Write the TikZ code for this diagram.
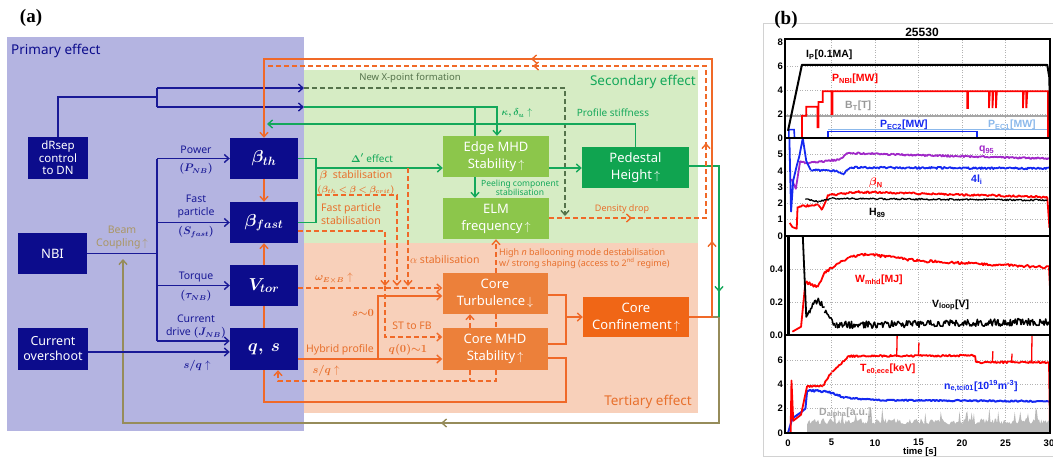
\documentclass[tikz,border=0pt]{standalone}
\usepackage{fontspec}
\setmainfont{Noto Sans}
\newfontfamily\plotfont{Liberation Sans}
\newfontfamily\serifbf{Liberation Serif}
\usepackage{bm}
\usetikzlibrary{arrows.meta,calc}
\definecolor{navy}{RGB}{12,12,140}
\definecolor{navyline}{RGB}{25,25,150}
\definecolor{lav}{RGB}{180,180,225}
\definecolor{palegreen}{RGB}{214,236,196}
\definecolor{peach}{RGB}{248,208,186}
\definecolor{lgbox}{RGB}{140,198,75}
\definecolor{dgbox}{RGB}{16,164,80}
\definecolor{orbox}{RGB}{236,128,58}
\definecolor{dorbox}{RGB}{240,102,22}
\definecolor{oline}{RGB}{240,105,40}
\definecolor{gline}{RGB}{20,168,90}
\definecolor{olivec}{RGB}{150,140,90}
\definecolor{dgdash}{RGB}{85,115,75}
\definecolor{otext}{RGB}{232,112,45}
\definecolor{beamc}{RGB}{170,150,100}
\definecolor{qpurple}{RGB}{160,40,200}
\definecolor{pblue}{RGB}{20,40,240}
\definecolor{lblue}{RGB}{140,185,235}
\newcommand\nz[7]{\draw[#1] plot[domain=#2:#3,samples=#6,variable=\t] (\t,{#4+(#5-#4)*(\t-#2)/(#3-#2)+#7*rand});}
\begin{document}
\begin{tikzpicture}[x=1pt,y=-1pt,
  >={Straight Barb[length=4.5pt,width=8pt]},
  every node/.style={inner sep=0pt},
  boxbase/.style={text=white, align=center, inner sep=0pt, minimum width=106pt, minimum height=41pt, font=\fontsize{13}{17}\selectfont},
  boxnavy/.style={boxbase, fill=navy, minimum width=68pt, font=\fontsize{17}{19}\selectfont},
  boxlg/.style={boxbase, fill=lgbox},
  boxdg/.style={boxbase, fill=dgbox, minimum width=107pt},
  boxor/.style={boxbase, fill=orbox, minimum width=105pt},
  boxdor/.style={boxbase, fill=dorbox, minimum height=40pt},
  lnavy/.style={draw=navyline, line width=1.4pt},
  lgreen/.style={draw=gline, line width=1.4pt},
  lor/.style={draw=oline, line width=1.4pt},
  lord/.style={draw=oline, line width=1.4pt, dash pattern=on 5pt off 3pt},
  lolive/.style={draw=olivec, line width=1.4pt},
  ldg/.style={draw=dgdash, line width=1.4pt, dash pattern=on 5pt off 3pt},
  labnavy/.style={text=navyline, font=\fontsize{10.5}{13}\selectfont, align=center},
  laborange/.style={text=otext, font=\fontsize{10.5}{13}\selectfont},
  labgreen/.style={text=gline, font=\bfseries\fontsize{10}{12}\selectfont},
  gridst/.style={gray!60, line width=0.5pt, dash pattern=on 1pt off 1.5pt},
  frm/.style={black, line width=1.6pt},
  ticklab/.style={font=\plotfont\bfseries\fontsize{9.5}{11}\selectfont, anchor=east},
  plab/.style={font=\plotfont\bfseries\fontsize{10.5}{12}\selectfont, anchor=west},
  nl/.style={line width=1.8pt, line join=round}
]
\useasboundingbox (0,0) rectangle (1053,456);
\pgfmathsetseed{7}
% ---------- panel (a) backgrounds
\fill[lav] (7,37) rectangle (304,431);
\fill[palegreen] (304,70) rectangle (698,243);
\fill[peach] (304,243) rectangle (698,413);
\node[font=\serifbf\bfseries\fontsize{19}{21}\selectfont] (pa) at (31,18) {(a)};
\node[anchor=west, text=navy, font=\fontsize{13.5}{16}\selectfont] (lprim) at (11,51) {Primary effect};
\node[anchor=east, text=gline, font=\fontsize{13.5}{16}\selectfont] (lsec) at (696,82) {Secondary effect};
\node[anchor=east, text=otext, font=\fontsize{13.5}{16}\selectfont] (lter) at (692,402) {Tertiary effect};
% ---------- boxes
\node[boxnavy, minimum width=60pt, minimum height=42pt, font=\fontsize{11.5}{12.5}\selectfont] (drsep) at (58,158) {dRsep\\control\\to DN};
\node[boxnavy, minimum width=69pt, font=\fontsize{13}{15}\selectfont] (nbi) at (52.5,253.5) {NBI};
\node[boxnavy, minimum width=70pt, minimum height=42pt, font=\fontsize{12.5}{15}\selectfont] (co) at (53,349) {Current\\overshoot};
\node[boxnavy] (bth) at (264,158.5) {$\bm{\beta_{th}}$};
\node[boxnavy] (bfast) at (264,222.5) {$\bm{\beta_{fast}}$};
\node[boxnavy] (vtor) at (264,285.5) {$\bm{V_{tor}}$};
\node[boxnavy, minimum height=42pt] (qs) at (264,349) {$\bm{q,\ s}$};
\node[boxlg] (edge) at (496,156.5) {Edge MHD\\Stability$\,\uparrow$};
\node[boxlg] (elm) at (496,218.5) {ELM\\frequency$\,\uparrow$};
\node[boxdg] (ped) at (635.5,167.5) {Pedestal\\Height$\,\uparrow$};
\node[boxor] (turb) at (495,293.5) {Core\\Turbulence$\,\downarrow$};
\node[boxor, minimum height=42pt] (cmhd) at (495,349) {Core MHD\\Stability$\,\uparrow$};
\node[boxdor] (conf) at (636,317) {Core\\Confinement$\,\uparrow$};
% ---------- olive feedback
\draw[lolive,->] (conf.east) -| (719,423) -- (441,423);
\draw[lolive,->] (445,423) -| (123,259);
% ---------- navy connectors
\coordinate (dsplit) at (157,97);
\coordinate (xa) at (157,88);
\coordinate (xb) at (157,107);
\coordinate (xbend) at (304,107);
\coordinate (xaend) at (304,88);
\draw[lnavy] (drsep.north) |- (dsplit);
\draw[lnavy] (xa) -- (xb);
\draw[lnavy,->] (xa) -- (xaend);
\draw[lnavy,->] (xb) -- (xbend);
\coordinate (nb1) at (157,158.5);
\coordinate (nb2) at (157,222.5);
\coordinate (nb3) at (157,285.5);
\coordinate (nb4) at (157,341);
\draw[lnavy] (nbi.east) -- (157,253.5);
\draw[lnavy] (nb1) -- (nb4);
\draw[lnavy,->] (nb1) -- (bth.west);
\draw[lnavy,->] (nb2) -- (bfast.west);
\draw[lnavy,->] (nb3) -- (vtor.west);
\draw[lnavy,->] (nb4) -- ($(qs.west)+(0,-8)$);
\draw[lnavy,->] ($(co.east)+(0,3)$) -- ($(qs.west)+(0,3)$);
% ---------- green connectors
\draw[ldg,->] (xaend) -| (565,216);
\draw[lgreen,->] (xbend) -| ($(edge.north)+(1,0)$);
\draw[lgreen] (475,107) -- ($(edge.north)+(-21,0)$);
\draw[lgreen,->] (ped.north) |- (267,124);
\draw[lgreen] (bth.east) -- (316,158.5) -- (316,222.5) -- (bfast.east);
\draw[lgreen,->] (316,168) -- ($(edge.west)+(0,11.5)$);
\draw[lgreen,->] ($(edge.south)+(-21,0)$) -- ($(elm.north)+(-21,0)$);
\draw[lgreen,->] ($(edge.east)+(0,11.5)$) -- ($(ped.west)+(0,0.5)$);
\draw[lgreen,->] ($(ped.east)+(0,-1.5)$) -| (719,292);
\draw[lgreen] (719,290) -- (719,317);
% ---------- orange solid
\draw[lor,->] (conf.east) -| (712,241);
\draw[lor,->] (712,244) |- (531,59);
\draw[lor,->] (535,59) -| (bth.north);
\draw[lor,->] (bth.south) -- (bfast.north);
\draw[lor,->] (vtor.north) -- (bfast.south);
\draw[lor] (qs.north) -- (vtor.south);
\draw[lor] (qs.south) |- (566,402) |- ($(cmhd.east)+(0,9)$);
\draw[lor] ($(turb.east)+(0,1.5)$) -| (566,344) -- ($(cmhd.east)+(0,-5)$);
\draw[lor,->] (566,317) -- (conf.west);
\draw[lor,->] ($(qs.east)+(0,10)$) -- ($(cmhd.west)+(0,10)$);
\draw[lor,->] (378,359) |- ($(turb.west)+(0,2.5)$);
% ---------- orange dashed
\draw[lord,->] ($(vtor.east)+(0,2.5)$) -- ($(turb.west)+(0,-5.5)$);
\draw[lord,->] ($(bfast.east)+(0,8.5)$) -| (385,286);
\draw[lord,->] (317,195) -| (397,286);
\draw[lord,->] (408,168) -- (408,286);
\draw[lord,->] (385,286) |- ($(cmhd.west)+(0,-12)$);
\draw[lord,->] ($(cmhd.north)+(-25,0)$) -- ($(turb.south)+(-25,0)$);
\draw[lord] ($(turb.south)+(1,0)$) -- ($(cmhd.north)+(1,0)$);
\draw[lord,->] ($(cmhd.south)+(1,0)$) |- (278,381) -- ($(qs.south)+(14,0)$);
\draw[lord] ($(cmhd.south)+(-25,0)$) -- (470,381);
\draw[lord,->] ($(turb.north)+(1,0)$) -- (elm.south);
\draw[lord,->] ($(elm.east)+(0,-0.5)$) -- (632,218);
\draw[lord,->] (630,218) -| (706,143);
\draw[lord,->] (706,147) |- (533,66);
\draw[lord] (537,66) -- (266,66);
% ---------- navy labels
\node[labnavy] (lpow) at (196,150) {Power};
\node[labnavy] (lpnb) at (196,169) {$\bm{(P_{NB})}$};
\node[labnavy] (lfp) at (196,206.5) {Fast\\particle};
\node[labnavy] (lsf) at (196,232) {$\bm{(S_{fast})}$};
\node[labnavy] (ltq) at (196,277) {Torque};
\node[labnavy] (ltau) at (196,296) {$\bm{(\tau_{NB})}$};
\node[labnavy] (lcd) at (196,326.5) {Current\\drive $\bm{(J_{NB})}$};
\node[labnavy] (lsq) at (197,366) {$\bm{s/q}\uparrow$};
\node[text=beamc, font=\fontsize{10.5}{13}\selectfont, align=center] (lbeam) at (122,237.5) {Beam\\Coupling$\,\uparrow$};
% ---------- green labels
\node[text=dgdash, font=\fontsize{9.5}{11}\selectfont] (lnx) at (410,78) {New X-point formation};
\node[labgreen] (ldel) at (372,158) {$\bm{\Delta'}$ effect};
\node[labgreen] (lkap) at (517,113) {$\bm{\kappa,\delta_u}\uparrow$};
\node[labgreen] (lprof) at (613,113) {Profile stiffness};
\node[labgreen, font=\bfseries\fontsize{8.5}{9}\selectfont, align=center] (lpeel) at (520,187.5) {Peeling component\\stabilisation};
% ---------- orange labels
\node[laborange] (lbs) at (356,176) {$\bm{\beta}$\ \ stabilisation};
\node[laborange, font=\fontsize{9}{11}\selectfont] (lbr) at (356,190) {$\bm{(\beta_{th}<\beta<\beta_{crit})}$};
\node[laborange, anchor=west, align=left] (lfps) at (321,214.5) {Fast particle\\stabilisation};
\node[laborange, anchor=west] (lal) at (410,260) {$\alpha$ stabilisation};
\node[laborange] (lom) at (334,278) {$\bm{\omega_{E\times B}}\uparrow$};
\node[laborange] (ls0) at (363,313) {$\bm{s{\sim}0}$};
\node[laborange] (lst) at (412,326) {ST to FB};
\node[laborange] (lhy) at (340,350) {Hybrid profile};
\node[laborange] (lq0) at (408,350) {$\bm{q(0){\sim}1}$};
\node[laborange] (lsq2) at (326,371) {$\bm{s/q}\uparrow$};
\node[laborange, font=\fontsize{9}{11.5}\selectfont, anchor=west, align=left] (lhn) at (499,258.5) {High \emph{n} ballooning mode destabilisation\\w/ strong shaping (access to 2\textsuperscript{nd} regime)};
\node[laborange, font=\fontsize{9}{11}\selectfont] (ldd) at (622,209) {Density drop};
% ================= panel (b)
\draw[gray!35, line width=0.5pt] (763,23) rectangle (1053,456);
\node[font=\serifbf\bfseries\fontsize{19}{21}\selectfont] (pb) at (786,20) {(b)};
\node[font=\plotfont\bfseries\fontsize{12}{14}\selectfont] (ttl) at (922,32) {25530};
% subplot 1
\begin{scope}[shift={(788,138)}, x=8.7pt, y=12pt]
  \foreach \t in {5,10,...,25} \draw[gridst] (\t,0) -- (\t,8.25);
  \foreach \v in {2,4,6} \draw[gridst] (-0.35,\v) -- (30.1,\v);
  \begin{scope}
    \clip (-0.35,0) rectangle (30.1,8.25);
    \draw[lblue, line width=1.6pt] (4.6,0.72) -- (30.1,0.72);
    \draw[gray!70, line width=1.5pt] (-0.35,1.85) -- (30.1,1.85);
    \draw[pblue, line width=1.6pt] (0.1,0) -- (0.1,0.7) -- (0.7,0.7) -- (0.75,0);
    \draw[pblue, line width=1.6pt] (4.6,0) -- (4.6,0.55) -- (21.7,0.55) -- (21.7,0.05);
    \draw[red, line width=1.8pt] (1.6,0) -- (1.6,1.85) -- (2.1,1.85) -- (2.1,2.6) -- (3.4,2.6) -- (3.4,0.9) -- (3.5,0.9) -- (3.5,3.0) -- (4.0,3.0) -- (4.0,3.9) -- (5.0,3.9) -- (5.0,2.0) -- (5.1,2.0) -- (5.1,3.9) -- (20.6,3.9) -- (20.6,2.5) -- (20.7,2.5) -- (20.7,3.9) -- (23.1,3.9) -- (23.1,2.5) -- (23.2,3.9) -- (23.5,3.9) -- (23.5,2.5) -- (23.6,3.9) -- (23.9,3.9) -- (23.9,2.5) -- (24.0,3.9) -- (27.0,3.9) -- (27.0,2.5) -- (27.1,3.9) -- (27.4,3.9) -- (27.4,2.5) -- (27.5,3.9) -- (29.9,3.9) -- (29.9,0);
    \draw[black, line width=2pt, line join=round] (0,0.6) -- (1.6,6.1) -- (29.8,6.1) -- (30.05,5) -- (30.1,0);
  \end{scope}
  \draw[frm] (-0.35,0) rectangle (30.1,8.25);
  \foreach \v in {0,2,4,6,8} \node[ticklab] at (-0.55,\v) {\v};
\end{scope}
% subplot 2
\begin{scope}[shift={(788,236)}, x=8.7pt, y=16.3pt]
  \foreach \t in {5,10,...,25} \draw[gridst] (\t,0) -- (\t,6);
  \foreach \v in {1,2,3,4,5} \draw[gridst] (-0.35,\v) -- (30.1,\v);
  \begin{scope}
    \clip (-0.35,0) rectangle (30.1,6);
    \draw[qpurple, nl] (0.4,3.5) -- (0.9,2.9) -- (1.4,4.6);
    \nz{qpurple, nl}{1.4}{2}{4.6}{4.45}{6}{0.05}
    \nz{qpurple, nl}{2}{6}{4.45}{4.7}{35}{0.05}
    \nz{qpurple, nl}{6}{6.8}{4.7}{5.1}{6}{0.05}
    \nz{qpurple, nl}{6.8}{12}{5.1}{5.0}{45}{0.05}
    \nz{qpurple, nl}{12}{30}{5.0}{4.75}{150}{0.05}
    \draw[pblue, nl] (0.15,6.2) -- (0.35,1.5) -- (0.6,3.4) -- (1.0,4.3) -- (1.3,4.9) -- (1.7,6.0) -- (2.1,4.6) -- (2.6,4.05);
    \nz{pblue, nl}{2.6}{5.5}{4.05}{4.0}{25}{0.06}
    \nz{pblue, nl}{5.5}{6.3}{4.0}{3.8}{6}{0.06}
    \nz{pblue, nl}{6.3}{7.2}{3.8}{4.2}{6}{0.06}
    \nz{pblue, nl}{7.2}{30}{4.2}{4.15}{190}{0.06}
    \draw[red, nl] (0.2,0.8) -- (0.5,0.55) -- (1.0,0.45) -- (1.1,1.8);
    \nz{red, nl}{1.1}{3.5}{1.8}{1.9}{20}{0.06}
    \nz{red, nl}{3.5}{3.9}{1.9}{1.6}{4}{0.05}
    \nz{red, nl}{3.9}{4.6}{1.6}{2.5}{6}{0.05}
    \nz{red, nl}{4.6}{8}{2.5}{2.7}{30}{0.06}
    \nz{red, nl}{8}{29.8}{2.7}{2.4}{180}{0.06}
    \draw[red, nl] (29.8,2.4) -- (30.05,0.5);
    \nz{black, line width=1.3pt, line join=round}{2.0}{3.5}{2.25}{2.1}{12}{0.05}
    \nz{black, line width=1.3pt, line join=round}{3.5}{5}{2.1}{2.3}{12}{0.05}
    \nz{black, line width=1.3pt, line join=round}{5}{29.8}{2.3}{2.2}{200}{0.05}
  \end{scope}
  \draw[frm] (-0.35,0) rectangle (30.1,6);
  \foreach \v in {0,1,2,3,4,5} \node[ticklab] at (-0.55,\v) {\v};
\end{scope}
% subplot 3
\begin{scope}[shift={(788,335)}, x=8.7pt, y=165pt]
  \foreach \t in {5,10,...,25} \draw[gridst] (\t,0) -- (\t,0.6);
  \foreach \v in {0.2,0.4} \draw[gridst] (-0.35,\v) -- (30.1,\v);
  \begin{scope}
    \clip (-0.35,0) rectangle (30.1,0.6);
    \draw[black, line width=2.2pt] (0.05,0) -- (0.05,0.6);
    \draw[red, nl] (0.5,0.02) -- (1.5,0.05) -- (2.0,0.32);
    \nz{red, nl}{2.0}{3.4}{0.32}{0.29}{10}{0.01}
    \nz{red, nl}{3.4}{4.2}{0.29}{0.38}{5}{0.01}
    \nz{red, nl}{4.2}{7}{0.38}{0.47}{20}{0.008}
    \nz{red, nl}{7}{9}{0.47}{0.49}{15}{0.008}
    \nz{red, nl}{9}{15}{0.49}{0.45}{45}{0.008}
    \nz{red, nl}{15}{30}{0.45}{0.41}{110}{0.008}
    \draw[red, nl] (30,0.41) -- (30.1,0.3);
    \draw[black, nl] (1.7,0.6) -- (2.1,0.11) -- (2.5,0.15);
    \nz{black, line width=1.5pt, line join=round}{2.5}{3.5}{0.15}{0.22}{10}{0.02}
    \nz{black, line width=1.5pt, line join=round}{3.5}{4.2}{0.22}{0.15}{7}{0.02}
    \nz{black, line width=1.5pt, line join=round}{4.2}{5.5}{0.15}{0.06}{10}{0.02}
    \nz{black, line width=1.5pt, line join=round}{5.5}{30}{0.06}{0.08}{260}{0.022}
  \end{scope}
  \draw[frm] (-0.35,0) rectangle (30.1,0.6);
  \foreach \v in {0.0,0.2,0.4} \node[ticklab] at (-0.55,\v) {\v};
\end{scope}
% subplot 4
\begin{scope}[shift={(788,433)}, x=8.7pt, y=12.2pt]
  \foreach \t in {5,10,...,25} \draw[gridst] (\t,0) -- (\t,8.03);
  \foreach \v in {2,4,6} \draw[gridst] (-0.35,\v) -- (30.1,\v);
  \begin{scope}
    \clip (-0.35,0) rectangle (30.1,8.03);
    \fill[gray!55] (2.2,0) -- plot[domain=2.2:30,samples=220,variable=\t] (\t,{0.95+0.25*rand+0.9*(rand>0.8)}) -- (30,0) -- cycle;
    \draw[pblue, line width=2pt, line join=round] (0,0) -- (0.5,1.2) -- (1.5,1.7) -- (2.0,2.0) -- (2.2,3.5);
    \nz{pblue, line width=2pt, line join=round}{2.2}{4.5}{3.5}{3.4}{18}{0.08}
    \nz{pblue, line width=2pt, line join=round}{4.5}{6.5}{3.4}{2.9}{15}{0.08}
    \nz{pblue, line width=2pt, line join=round}{6.5}{10}{2.9}{2.7}{25}{0.06}
    \nz{pblue, line width=2pt, line join=round}{10}{30}{2.7}{2.6}{140}{0.06}
    \draw[red, nl] (0.3,0) -- (0.4,4.3) -- (0.6,1.0) -- (1.5,1.5) -- (2.0,3.2) -- (2.2,3.85);
    \nz{red, nl}{2.2}{4}{3.85}{3.85}{14}{0.08}
    \nz{red, nl}{4}{5}{3.85}{5.0}{8}{0.08}
    \nz{red, nl}{5}{7}{5.0}{6.3}{15}{0.08}
    \nz{red, nl}{7}{21.5}{6.3}{6.35}{110}{0.08}
    \nz{red, nl}{21.6}{30}{5.8}{5.8}{65}{0.08}
    \draw[red, nl] (21.5,6.35) -- (21.6,5.8);
    \draw[red, line width=1.3pt] (12.5,6.4) -- (12.55,8.1) (15,6.4) -- (15.05,7.4) (28,5.8) -- (28.05,8.1) (23.5,5.8) -- (23.55,6.7) (25.7,5.8) -- (25.75,6.5);
    \draw[red, nl] (30,5.8) -- (30.1,1);
  \end{scope}
  \draw[frm] (-0.35,0) rectangle (30.1,8.03);
  \foreach \v in {0,2,4,6} \node[ticklab] at (-0.55,\v) {\v};
  \foreach \t in {0,5,...,30} \node[font=\plotfont\bfseries\fontsize{9.5}{11}\selectfont] at (\t,-0.8) {\t};
\end{scope}
\node[font=\plotfont\bfseries\fontsize{9.5}{11}\selectfont] (tlab) at (920,452) {time [s]};
% plot labels
\node[plab, text=black] (lip) at (806,55) {I\textsubscript{P}[0.1MA]};
\node[plab, text=red] (lpn) at (832,79) {P\textsubscript{NBI}[MW]};
\node[plab, text=gray!80] (lbt) at (845,106) {B\textsubscript{T}[T]};
\node[plab, text=pblue] (lec2) at (880,125) {P\textsubscript{EC2}[MW]};
\node[plab, text=lblue] (lec1) at (988,125) {P\textsubscript{EC1}[MW]};
\node[plab, text=qpurple] (lq95) at (979,150) {q\textsubscript{95}};
\node[plab, text=pblue] (lli) at (971,180) {4l\textsubscript{i}};
\node[plab, text=red] (lbn) at (869,183) {$\bm{\beta}$\textsubscript{N}};
\node[plab, text=black] (lh89) at (869,213) {H\textsubscript{89}};
\node[plab, text=red] (lw) at (855,280) {W\textsubscript{mhd}[MJ]};
\node[plab, text=black] (lv) at (932,305) {V\textsubscript{loop}[V]};
\node[plab, text=red] (lte) at (860,369) {T\textsubscript{e0,ece}[keV]};
\node[plab, text=pblue] (lne) at (944,386) {n\textsubscript{e,tci01}[10\textsuperscript{19}m\textsuperscript{-3}]};
\node[plab, text=gray!70] (lda) at (819,413) {D\textsubscript{alpha}[a.u.]};
\end{tikzpicture}
\end{document}
